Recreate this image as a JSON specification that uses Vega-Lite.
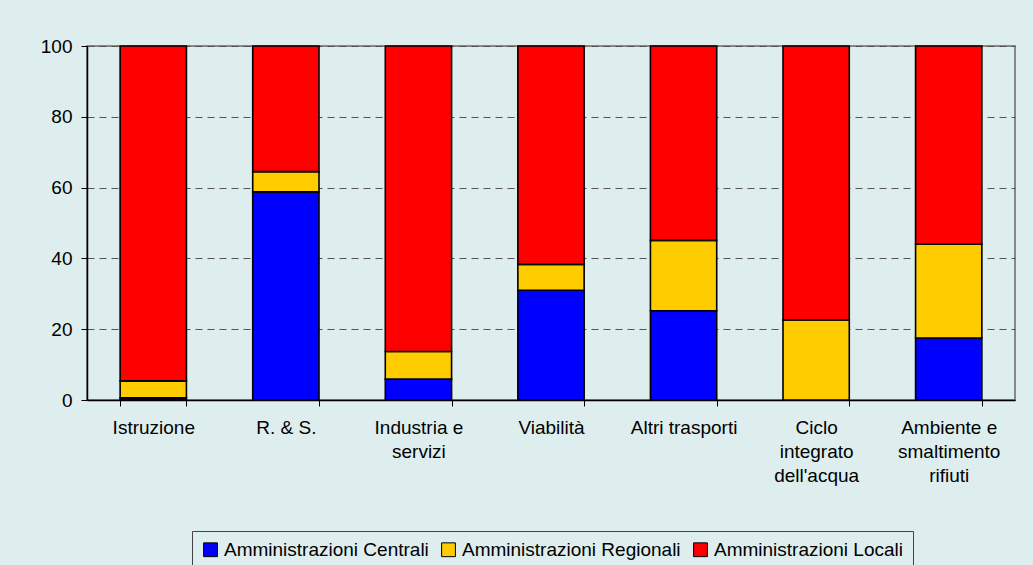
{
  "$schema": "https://vega.github.io/schema/vega-lite/v6.json",
  "width": 928,
  "height": 354,
  "autosize": {"type": "none"},
  "padding": {"left": 87, "top": 46, "right": 18, "bottom": 165},
  "background": "#deeeee",
  "config": {
    "font": "Liberation Sans",
    "view": {"stroke": "#888888", "strokeWidth": 2},
    "axis": {"labelFont": "Liberation Sans", "labelColor": "#000000", "labelFontSize": 19}
  },
  "data": {
    "values": [
      {"settore": "Istruzione", "serie": "Amministrazioni Centrali", "ordine": 1, "valore": 0.6},
      {"settore": "Istruzione", "serie": "Amministrazioni Regionali", "ordine": 2, "valore": 4.8},
      {"settore": "Istruzione", "serie": "Amministrazioni Locali", "ordine": 3, "valore": 94.6},
      {"settore": "R. & S.", "serie": "Amministrazioni Centrali", "ordine": 1, "valore": 58.8},
      {"settore": "R. & S.", "serie": "Amministrazioni Regionali", "ordine": 2, "valore": 5.7},
      {"settore": "R. & S.", "serie": "Amministrazioni Locali", "ordine": 3, "valore": 35.5},
      {"settore": "Industria e servizi", "serie": "Amministrazioni Centrali", "ordine": 1, "valore": 5.9},
      {"settore": "Industria e servizi", "serie": "Amministrazioni Regionali", "ordine": 2, "valore": 7.8},
      {"settore": "Industria e servizi", "serie": "Amministrazioni Locali", "ordine": 3, "valore": 86.3},
      {"settore": "Viabilità", "serie": "Amministrazioni Centrali", "ordine": 1, "valore": 31.0},
      {"settore": "Viabilità", "serie": "Amministrazioni Regionali", "ordine": 2, "valore": 7.3},
      {"settore": "Viabilità", "serie": "Amministrazioni Locali", "ordine": 3, "valore": 61.7},
      {"settore": "Altri trasporti", "serie": "Amministrazioni Centrali", "ordine": 1, "valore": 25.2},
      {"settore": "Altri trasporti", "serie": "Amministrazioni Regionali", "ordine": 2, "valore": 19.9},
      {"settore": "Altri trasporti", "serie": "Amministrazioni Locali", "ordine": 3, "valore": 54.9},
      {"settore": "Ciclo integrato dell'acqua", "serie": "Amministrazioni Centrali", "ordine": 1, "valore": 0},
      {"settore": "Ciclo integrato dell'acqua", "serie": "Amministrazioni Regionali", "ordine": 2, "valore": 22.6},
      {"settore": "Ciclo integrato dell'acqua", "serie": "Amministrazioni Locali", "ordine": 3, "valore": 77.4},
      {"settore": "Ambiente e smaltimento rifiuti", "serie": "Amministrazioni Centrali", "ordine": 1, "valore": 17.5},
      {"settore": "Ambiente e smaltimento rifiuti", "serie": "Amministrazioni Regionali", "ordine": 2, "valore": 26.5},
      {"settore": "Ambiente e smaltimento rifiuti", "serie": "Amministrazioni Locali", "ordine": 3, "valore": 56.0}
    ]
  },
  "mark": {"type": "bar", "stroke": "#000000", "strokeWidth": 1.6},
  "encoding": {
    "x": {
      "field": "settore",
      "type": "nominal",
      "sort": ["Istruzione", "R. & S.", "Industria e servizi", "Viabilità", "Altri trasporti", "Ciclo integrato dell'acqua", "Ambiente e smaltimento rifiuti"],
      "scale": {"paddingInner": 0.5, "paddingOuter": 0.25},
      "axis": {
        "title": null,
        "labelAngle": 0,
        "tickBand": "extent",
        "tickSize": 6,
        "tickColor": "#000000",
        "domainColor": "#000000",
        "domainWidth": 1.5,
        "labelPadding": 12,
        "labelLineHeight": 24,
        "labelBaseline": "top",
        "labelExpr": "datum.label == 'Industria e servizi' ? ['Industria e', 'servizi'] : datum.label == \"Ciclo integrato dell'acqua\" ? ['Ciclo', 'integrato', \"dell'acqua\"] : datum.label == 'Ambiente e smaltimento rifiuti' ? ['Ambiente e', 'smaltimento', 'rifiuti'] : datum.label",
        "grid": false
      }
    },
    "y": {
      "field": "valore",
      "type": "quantitative",
      "stack": "zero",
      "scale": {"domain": [0, 100]},
      "axis": {
        "title": null,
        "values": [0, 20, 40, 60, 80, 100],
        "tickSize": 6,
        "tickColor": "#000000",
        "domainColor": "#000000",
        "domainWidth": 1.5,
        "labelPadding": 9,
        "grid": true,
        "gridColor": "#555555",
        "gridDash": [7, 5],
        "gridWidth": 1
      }
    },
    "color": {
      "field": "serie",
      "type": "nominal",
      "scale": {
        "domain": ["Amministrazioni Centrali", "Amministrazioni Regionali", "Amministrazioni Locali"],
        "range": ["#0000ff", "#ffcc00", "#ff0000"]
      },
      "legend": {
        "title": null,
        "orient": "none",
        "legendX": 105,
        "legendY": 485,
        "direction": "horizontal",
        "strokeColor": "#444444",
        "fillColor": "#deeeee",
        "padding": 9,
        "symbolType": "square",
        "symbolSize": 190,
        "symbolStrokeColor": "#000000",
        "symbolStrokeWidth": 1,
        "symbolOpacity": 1,
        "labelFontSize": 19,
        "labelColor": "#000000",
        "labelLimit": 400,
        "labelOffset": 4,
        "columnPadding": 10
      }
    },
    "order": {"field": "ordine", "type": "quantitative"}
  }
}
